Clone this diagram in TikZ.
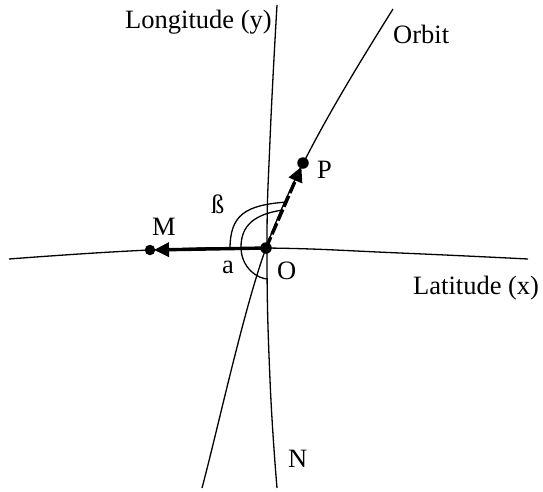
\documentclass[tikz,border=0pt]{standalone}
\usepackage{fontspec}
\setmainfont{Liberation Serif}
\usetikzlibrary{arrows.meta}
\begin{document}
\begin{tikzpicture}[x=1pt,y=-1pt,
  thinline/.style={line width=1.3pt},
  vec/.style={line width=3.4pt,-{Triangle[length=15pt,width=14pt]}},
  dotnode/.style={circle,fill=black,inner sep=0pt,minimum size=11.5pt},
  lbl/.style={inner sep=0pt,anchor=base west,font=\fontsize{26.5}{31}\selectfont}]
\useasboundingbox (0,0) rectangle (543,491);
% points
\node[dotnode] (O) at (266,248) {};
\node[dotnode,minimum size=10.5pt] (M) at (150,250) {};
\node[dotnode] (P) at (303,163) {};
% curve ends
\coordinate (lonT) at (277,5);
\coordinate (lonB) at (277,488);
\coordinate (orbT) at (393,9);
\coordinate (orbB) at (202,488);
\coordinate (latL) at (9,259);
\coordinate (latR) at (528,259);
% curves
\draw[thinline] plot[smooth,tension=0.8] coordinates {(277,5) (270,140) (267,250) (270,380) (277,488)};
\draw[thinline] (orbT) .. controls (343,89) and (295,168) .. (O.center) .. controls (244,308) and (218,428) .. (orbB);
\draw[thinline] plot[smooth,tension=0.8] coordinates {(9,259) (150,250) (266,248) (400,253) (528,259)};
% angle arcs
\coordinate (b1) at (230,249);
\coordinate (b2) at (287,202);
\draw[thinline] (b1) .. controls (230,215) and (245,205) .. (b2);
\coordinate (a1) at (283,210);
\coordinate (a2) at (241,247);
\coordinate (a3) at (268,279);
\draw[thinline] (a1) .. controls (255,214) and (241,225) .. (a2) .. controls (241,268) and (258,279) .. (a3);
% vectors
\draw[vec,shorten >=4pt] (O.center) -- (M.center);
\draw[vec,dash pattern=on 12pt off 3pt,shorten >=4pt] (O.center) -- (P.center);
% labels
\node[lbl] (tLong) at (125,28) {Longitude (y)};
\node[lbl] (tOrb) at (393,43) {Orbit};
\node[lbl] (tLat) at (413,294) {Latitude (x)};
\node[lbl] (tM) at (152,235) {M};
\node[lbl] (tP) at (317,178) {P};
\node[lbl] (tO) at (277,279) {O};
\node[lbl] (ta) at (222,273) {a};
\node[lbl] (tb) at (211,213) {ß};
\node[lbl] (tN) at (288,467) {N};
\end{tikzpicture}
\end{document}
